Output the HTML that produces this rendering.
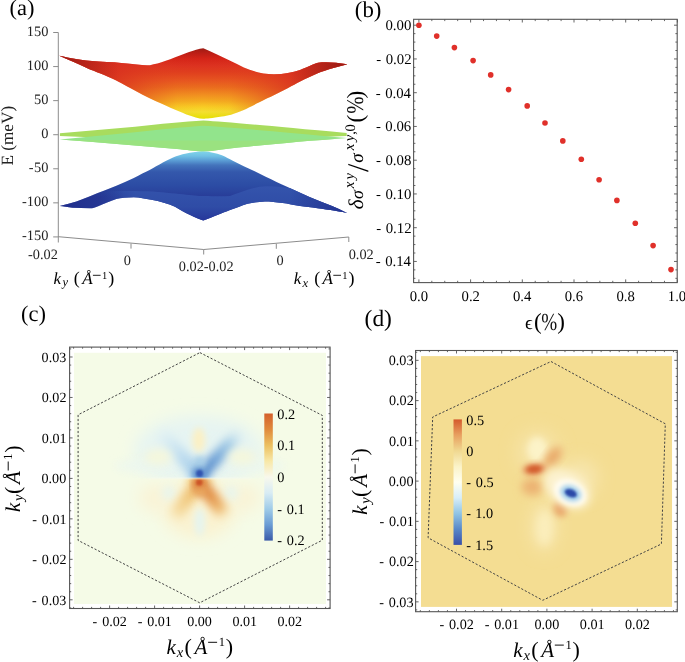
<!DOCTYPE html>
<html><head><meta charset="utf-8"><style>
html,body{margin:0;padding:0;background:#fff;}
svg{display:block;will-change:transform;}
text{font-family:"Liberation Serif", serif; text-rendering:geometricPrecision;}
</style></head><body>
<svg width="685" height="662" viewBox="0 0 685 662" fill="#111">
<rect width="685" height="662" fill="#fff"/>
<defs>
<filter id="b1" x="-50%" y="-50%" width="200%" height="200%"><feGaussianBlur stdDeviation="1.2"/></filter>
<filter id="b2" x="-50%" y="-50%" width="200%" height="200%"><feGaussianBlur stdDeviation="2"/></filter>
<filter id="b3" x="-50%" y="-50%" width="200%" height="200%"><feGaussianBlur stdDeviation="3"/></filter>
<filter id="b4" x="-50%" y="-50%" width="200%" height="200%"><feGaussianBlur stdDeviation="4"/></filter>
<filter id="b5" x="-50%" y="-50%" width="200%" height="200%"><feGaussianBlur stdDeviation="5"/></filter>
<filter id="b6" x="-50%" y="-50%" width="200%" height="200%"><feGaussianBlur stdDeviation="6"/></filter>
<filter id="b8" x="-50%" y="-50%" width="200%" height="200%"><feGaussianBlur stdDeviation="8"/></filter>
<filter id="b12" x="-50%" y="-50%" width="200%" height="200%"><feGaussianBlur stdDeviation="12"/></filter>
</defs>
<text x="9.60" y="14.80" font-size="22.5" fill="#000">(a)</text>
<line x1="58.3" y1="32.5" x2="58.3" y2="242.5" stroke="#8c8c8c" stroke-width="1"/>
<line x1="53.2" y1="32.50" x2="58.3" y2="32.50" stroke="#8c8c8c" stroke-width="1"/>
<text x="26.85" y="35.90" font-size="14.4" fill="#222">150</text>
<line x1="53.2" y1="66.57" x2="58.3" y2="66.57" stroke="#8c8c8c" stroke-width="1"/>
<text x="26.85" y="69.97" font-size="14.4" fill="#222">100</text>
<line x1="53.2" y1="100.64" x2="58.3" y2="100.64" stroke="#8c8c8c" stroke-width="1"/>
<text x="34.05" y="104.04" font-size="14.4" fill="#222">50</text>
<line x1="53.2" y1="134.71" x2="58.3" y2="134.71" stroke="#8c8c8c" stroke-width="1"/>
<text x="41.25" y="138.11" font-size="14.4" fill="#222">0</text>
<line x1="53.2" y1="168.78" x2="58.3" y2="168.78" stroke="#8c8c8c" stroke-width="1"/>
<text x="28.81" y="172.18" font-size="14.4" fill="#222">-</text>
<text x="34.05" y="172.18" font-size="14.4" fill="#222">50</text>
<line x1="53.2" y1="202.85" x2="58.3" y2="202.85" stroke="#8c8c8c" stroke-width="1"/>
<text x="22.04" y="206.25" font-size="14.4" fill="#222">-</text>
<text x="26.85" y="206.25" font-size="14.4" fill="#222">100</text>
<line x1="53.2" y1="236.92" x2="58.3" y2="236.92" stroke="#8c8c8c" stroke-width="1"/>
<text x="22.04" y="240.32" font-size="14.4" fill="#222">-</text>
<text x="26.85" y="240.32" font-size="14.4" fill="#222">150</text>
<polyline points="58.3,236.7 203.7,249.5 348.8,237" fill="none" stroke="#8c8c8c" stroke-width="1"/>
<line x1="131" y1="243.6" x2="131" y2="248.6" stroke="#8c8c8c" stroke-width="1"/>
<line x1="203.7" y1="249.5" x2="203.7" y2="254.5" stroke="#8c8c8c" stroke-width="1"/>
<line x1="276.3" y1="243.8" x2="276.3" y2="248.8" stroke="#8c8c8c" stroke-width="1"/>
<line x1="348.8" y1="237" x2="348.8" y2="242" stroke="#8c8c8c" stroke-width="1"/>
<text x="57.80" y="259.20" font-size="14.3" text-anchor="end" fill="#222">-0.02</text>
<text x="127.30" y="265.10" font-size="14.3" text-anchor="middle" fill="#222">0</text>
<text x="206.20" y="271.40" font-size="14.3" text-anchor="middle" fill="#222">0.02-0.02</text>
<text x="280.00" y="265.10" font-size="14.3" text-anchor="middle" fill="#222">0</text>
<text x="348.70" y="259.40" font-size="14.3" fill="#222">0.02</text>
<text transform="translate(12.7,135.7) rotate(-90)" font-size="17.2" text-anchor="middle" fill="#222">E (meV)</text>
<g transform="translate(53.9,284)" fill="#222"><text x="-0.50" y="0.00" font-size="17" font-style="italic" fill="#000">k</text>
<text x="8.70" y="1.90" font-size="12.5" font-style="italic" fill="#000">y</text>
<text x="19.90" y="0.40" font-size="18" fill="#000">(</text>
<text x="28.30" y="0.00" font-size="17" font-style="italic" fill="#000">Å</text>
<rect x="39" y="-9.2" width="7.7" height="1" fill="#222"/>
<text x="48.00" y="-5.50" font-size="10.5" fill="#000">1</text>
<text x="54.30" y="0.40" font-size="18" fill="#000">)</text></g>
<g transform="translate(294.3,284)" fill="#222"><text x="-0.50" y="0.00" font-size="17" font-style="italic" fill="#000">k</text>
<text x="8.30" y="2.70" font-size="12.5" font-style="italic" fill="#000">x</text>
<text x="19.90" y="0.40" font-size="18" fill="#000">(</text>
<text x="28.30" y="0.00" font-size="17" font-style="italic" fill="#000">Å</text>
<rect x="39" y="-9.2" width="7.7" height="1" fill="#222"/>
<text x="48.00" y="-5.50" font-size="10.5" fill="#000">1</text>
<text x="54.30" y="0.40" font-size="18" fill="#000">)</text></g>
<defs>
<linearGradient id="gRed" gradientUnits="userSpaceOnUse" x1="0" y1="48" x2="0" y2="119">
<stop offset="0" stop-color="#9c1c14"/><stop offset="0.08" stop-color="#be1e16"/><stop offset="0.15" stop-color="#d42418"/>
<stop offset="0.25" stop-color="#dc3220"/><stop offset="0.35" stop-color="#e0401e"/><stop offset="0.45" stop-color="#e65420"/>
<stop offset="0.55" stop-color="#ea6c1e"/><stop offset="0.65" stop-color="#f08c20"/><stop offset="0.75" stop-color="#f4ac20"/>
<stop offset="0.83" stop-color="#f8cc24"/><stop offset="0.9" stop-color="#f4e030"/><stop offset="1" stop-color="#e4e000"/>
</linearGradient>
<linearGradient id="gBlue" gradientUnits="userSpaceOnUse" x1="0" y1="151.5" x2="0" y2="197">
<stop offset="0" stop-color="#80d4ea"/><stop offset="0.1" stop-color="#70c0e4"/><stop offset="0.2" stop-color="#5a9cd4"/>
<stop offset="0.3" stop-color="#4474bc"/><stop offset="0.45" stop-color="#3458ac"/><stop offset="0.75" stop-color="#2c4ca4"/>
<stop offset="1" stop-color="#283c98"/>
</linearGradient>
<linearGradient id="gBlue2" gradientUnits="userSpaceOnUse" x1="0" y1="186" x2="0" y2="221">
<stop offset="0" stop-color="#3454ac"/><stop offset="0.6" stop-color="#2f4ca6"/><stop offset="1" stop-color="#26369a"/>
</linearGradient>
<linearGradient id="gTipL" gradientUnits="userSpaceOnUse" x1="59" y1="0" x2="125" y2="0">
<stop offset="0" stop-color="#1e2a88" stop-opacity="1"/><stop offset="1" stop-color="#1e2a88" stop-opacity="0"/>
</linearGradient>
<linearGradient id="gTipR" gradientUnits="userSpaceOnUse" x1="347" y1="0" x2="290" y2="0">
<stop offset="0" stop-color="#1e2a88" stop-opacity="1"/><stop offset="1" stop-color="#1e2a88" stop-opacity="0"/>
</linearGradient>
<linearGradient id="gRSide" gradientUnits="userSpaceOnUse" x1="59" y1="0" x2="347" y2="0">
<stop offset="0" stop-color="#d83020" stop-opacity="0.95"/><stop offset="0.2" stop-color="#d83020" stop-opacity="0.75"/>
<stop offset="0.32" stop-color="#dc3820" stop-opacity="0.32"/><stop offset="0.41" stop-color="#e04020" stop-opacity="0.04"/>
<stop offset="0.5" stop-color="#e04020" stop-opacity="0"/><stop offset="0.59" stop-color="#e04020" stop-opacity="0.04"/>
<stop offset="0.68" stop-color="#dc3820" stop-opacity="0.32"/><stop offset="0.8" stop-color="#d83020" stop-opacity="0.75"/>
<stop offset="1" stop-color="#d83020" stop-opacity="0.95"/>
</linearGradient>
<linearGradient id="gRTipL" gradientUnits="userSpaceOnUse" x1="59" y1="0" x2="118" y2="0">
<stop offset="0" stop-color="#8a1410" stop-opacity="0.75"/><stop offset="1" stop-color="#8a1410" stop-opacity="0"/>
</linearGradient>
<linearGradient id="gRTipR" gradientUnits="userSpaceOnUse" x1="347" y1="0" x2="290" y2="0">
<stop offset="0" stop-color="#8a1410" stop-opacity="0.8"/><stop offset="1" stop-color="#8a1410" stop-opacity="0"/>
</linearGradient>
</defs>
<path d="M59.3,55.8 C70,58 80,60.5 98.8,61.5 C110,62 120,62.5 127.3,63.6 C135,64.5 142,65.5 150,65.2 C160,63.5 170,59.5 186.4,53.1 C194,50.5 199,48.8 203.3,48.3 C212,52 225,58 243.8,67.4 C252,71 262,74 274,74.3 C284,74.2 292,72.5 300,70 C308,67 313,64 318,62.8 C326,61.8 336,62.5 347.4,64.3 C335,67.5 322,71 313.9,75 C300,81 292,86 287.6,88.2 C275,94.5 268,98 265.7,99.1 C255,104.5 248,108 243.8,110 C233,114.5 228,115.8 221.9,116.6 C212,118.2 206,118.8 203.3,118.8 C199,118.7 193,116.5 186.4,114.4 C180,111.5 176,110 171,107.9 C160,103 150,98.5 142.6,94.7 C130,88 122,83.5 116.3,80.5 C105,75 95,71.5 87.8,68.5 C78,64 68,59.5 59.3,55.8 Z" fill="url(#gRed)"/>
<path d="M59.3,55.8 C70,58 80,60.5 98.8,61.5 C110,62 120,62.5 127.3,63.6 C135,64.5 142,65.5 150,65.2 C160,63.5 170,59.5 186.4,53.1 C194,50.5 199,48.8 203.3,48.3 C212,52 225,58 243.8,67.4 C252,71 262,74 274,74.3 C284,74.2 292,72.5 300,70 C308,67 313,64 318,62.8 C326,61.8 336,62.5 347.4,64.3 C335,67.5 322,71 313.9,75 C300,81 292,86 287.6,88.2 C275,94.5 268,98 265.7,99.1 C255,104.5 248,108 243.8,110 C233,114.5 228,115.8 221.9,116.6 C212,118.2 206,118.8 203.3,118.8 C199,118.7 193,116.5 186.4,114.4 C180,111.5 176,110 171,107.9 C160,103 150,98.5 142.6,94.7 C130,88 122,83.5 116.3,80.5 C105,75 95,71.5 87.8,68.5 C78,64 68,59.5 59.3,55.8 Z" fill="url(#gRSide)"/>
<path d="M59.3,55.8 C70,58 80,60.5 98.8,61.5 C110,62 120,62.5 127.3,63.6 C135,64.5 142,65.5 150,65.2 C160,63.5 170,59.5 186.4,53.1 C194,50.5 199,48.8 203.3,48.3 C212,52 225,58 243.8,67.4 C252,71 262,74 274,74.3 C284,74.2 292,72.5 300,70 C308,67 313,64 318,62.8 C326,61.8 336,62.5 347.4,64.3 C335,67.5 322,71 313.9,75 C300,81 292,86 287.6,88.2 C275,94.5 268,98 265.7,99.1 C255,104.5 248,108 243.8,110 C233,114.5 228,115.8 221.9,116.6 C212,118.2 206,118.8 203.3,118.8 C199,118.7 193,116.5 186.4,114.4 C180,111.5 176,110 171,107.9 C160,103 150,98.5 142.6,94.7 C130,88 122,83.5 116.3,80.5 C105,75 95,71.5 87.8,68.5 C78,64 68,59.5 59.3,55.8 Z" fill="url(#gRTipL)"/>
<path d="M59.3,55.8 C70,58 80,60.5 98.8,61.5 C110,62 120,62.5 127.3,63.6 C135,64.5 142,65.5 150,65.2 C160,63.5 170,59.5 186.4,53.1 C194,50.5 199,48.8 203.3,48.3 C212,52 225,58 243.8,67.4 C252,71 262,74 274,74.3 C284,74.2 292,72.5 300,70 C308,67 313,64 318,62.8 C326,61.8 336,62.5 347.4,64.3 C335,67.5 322,71 313.9,75 C300,81 292,86 287.6,88.2 C275,94.5 268,98 265.7,99.1 C255,104.5 248,108 243.8,110 C233,114.5 228,115.8 221.9,116.6 C212,118.2 206,118.8 203.3,118.8 C199,118.7 193,116.5 186.4,114.4 C180,111.5 176,110 171,107.9 C160,103 150,98.5 142.6,94.7 C130,88 122,83.5 116.3,80.5 C105,75 95,71.5 87.8,68.5 C78,64 68,59.5 59.3,55.8 Z" fill="url(#gRTipR)"/>
<path d="M59.9,133.2 L135,126.8 C160,124 185,121.5 203.3,120.5 C225,121.8 260,125 346.7,133 L346.7,136 L203,142 L59.9,136 Z" fill="#a8dc5e"/>
<path d="M59.9,139.4 L135,132.3 C160,129.5 185,127 203.3,125.8 C225,127 265,130.5 346.7,138 C300,141.5 255,145.5 222,149.5 C214,150.5 208,151.5 203.3,151.6 C198,151.5 190,150.5 180,149.3 C140,145.5 100,142.5 59.9,139.4 Z" fill="#92e48c"/>
<path d="M59.9,139.4 C100,140 150,140.4 203,140.6 C250,141 300,140 346.7,138 C300,141.5 255,145.5 222,149.5 C214,150.5 208,151.5 203.3,151.6 C198,151.5 190,150.5 180,149.3 C140,145.5 100,142.5 59.9,139.4 Z" fill="#9ae280"/>
<clipPath id="clipB1"><path d="M59.8,206.1 C72,203.5 82,199.5 90,196.3 C100,192 108,189.5 116.3,185.8 C122,183 128,180.5 133.8,177.9 C140,175 145,172 149.6,170 C158,165 168,159.5 175.4,156.4 C185,153 195,151.5 203.3,151.4 C210,151.5 216,153 221.9,155.3 C226,157 229,159 232.8,160.8 C236.5,162.6 240,164.6 243.8,166.3 C247.5,168 251,169.7 254.7,171.3 C258.5,173 262,175 265.7,176.8 C273,180.3 280,183.8 287.6,187.1 C295,190.4 302,193.8 309.5,196.9 C317,200 324,202.8 331.4,205.7 C337,208 342,210.5 347.4,213.2 C343,212 338,211.5 335.1,210.8 C329,209.8 323,208.8 317.6,208.2 C311,207.2 305,206.5 300,205.9 C294,205 288,203.5 282.6,202.9 C276,202.2 270,201.5 265,201.5 C259,201.8 253,202.5 247.5,203.8 C241,206 236,208 230,209.9 C222,213 215,216 203.3,220.6 C196,218 185,213 175,206.8 C168,203.5 160,201.5 151.4,199.8 C145,198.5 140,197.5 133.8,197.2 C127,197.3 121,198 116.3,198.9 C110,201 104,203.5 98.8,205.9 C95,207.5 93,208.2 90,208.2 C84,208.2 78,208 72.5,207.7 C68,207.2 63,206.5 59.8,206.1 Z"/></clipPath>
<path d="M59.8,206.1 C72,203.5 82,199.5 90,196.3 C100,192 108,189.5 116.3,185.8 C122,183 128,180.5 133.8,177.9 C140,175 145,172 149.6,170 C158,165 168,159.5 175.4,156.4 C185,153 195,151.5 203.3,151.4 C210,151.5 216,153 221.9,155.3 C226,157 229,159 232.8,160.8 C236.5,162.6 240,164.6 243.8,166.3 C247.5,168 251,169.7 254.7,171.3 C258.5,173 262,175 265.7,176.8 C273,180.3 280,183.8 287.6,187.1 C295,190.4 302,193.8 309.5,196.9 C317,200 324,202.8 331.4,205.7 C337,208 342,210.5 347.4,213.2 C343,212 338,211.5 335.1,210.8 C329,209.8 323,208.8 317.6,208.2 C311,207.2 305,206.5 300,205.9 C294,205 288,203.5 282.6,202.9 C276,202.2 270,201.5 265,201.5 C259,201.8 253,202.5 247.5,203.8 C241,206 236,208 230,209.9 C222,213 215,216 203.3,220.6 C196,218 185,213 175,206.8 C168,203.5 160,201.5 151.4,199.8 C145,198.5 140,197.5 133.8,197.2 C127,197.3 121,198 116.3,198.9 C110,201 104,203.5 98.8,205.9 C95,207.5 93,208.2 90,208.2 C84,208.2 78,208 72.5,207.7 C68,207.2 63,206.5 59.8,206.1 Z" fill="url(#gBlue)"/>
<linearGradient id="gFoldM" gradientUnits="userSpaceOnUse" x1="98" y1="0" x2="135" y2="0"><stop offset="0" stop-color="#fff" stop-opacity="0"/><stop offset="1" stop-color="#fff" stop-opacity="1"/></linearGradient>
<mask id="mFold" maskUnits="userSpaceOnUse" x="0" y="0" width="685" height="662"><rect x="0" y="0" width="685" height="662" fill="url(#gFoldM)"/></mask>
<g mask="url(#mFold)"><path d="M98,240 L98,192.4 C104,191.8 112,191.2 120.7,191 C132,190.8 145,191.2 153.5,191.5 C165,192.5 178,193.8 186.4,194.7 C195,195.6 200,196 205,196 C215,196.3 222,196.3 230,195.9 C236,194 242,191.5 247.5,189.8 C253,188 259,186.5 265,186.3 C272,186.2 278,186.6 282.6,187.2 C287,187.7 290,188 292,188.3 L360,190 L360,240 Z" fill="url(#gBlue2)" clip-path="url(#clipB1)"/></g>
<path d="M59.8,206.1 C72,203.5 82,199.5 90,196.3 C100,192 108,189.5 116.3,185.8 C122,183 128,180.5 133.8,177.9 C140,175 145,172 149.6,170 C158,165 168,159.5 175.4,156.4 C185,153 195,151.5 203.3,151.4 C210,151.5 216,153 221.9,155.3 C226,157 229,159 232.8,160.8 C236.5,162.6 240,164.6 243.8,166.3 C247.5,168 251,169.7 254.7,171.3 C258.5,173 262,175 265.7,176.8 C273,180.3 280,183.8 287.6,187.1 C295,190.4 302,193.8 309.5,196.9 C317,200 324,202.8 331.4,205.7 C337,208 342,210.5 347.4,213.2 C343,212 338,211.5 335.1,210.8 C329,209.8 323,208.8 317.6,208.2 C311,207.2 305,206.5 300,205.9 C294,205 288,203.5 282.6,202.9 C276,202.2 270,201.5 265,201.5 C259,201.8 253,202.5 247.5,203.8 C241,206 236,208 230,209.9 C222,213 215,216 203.3,220.6 C196,218 185,213 175,206.8 C168,203.5 160,201.5 151.4,199.8 C145,198.5 140,197.5 133.8,197.2 C127,197.3 121,198 116.3,198.9 C110,201 104,203.5 98.8,205.9 C95,207.5 93,208.2 90,208.2 C84,208.2 78,208 72.5,207.7 C68,207.2 63,206.5 59.8,206.1 Z" fill="url(#gTipL)" opacity="0.8"/>
<path d="M59.8,206.1 C72,203.5 82,199.5 90,196.3 C100,192 108,189.5 116.3,185.8 C122,183 128,180.5 133.8,177.9 C140,175 145,172 149.6,170 C158,165 168,159.5 175.4,156.4 C185,153 195,151.5 203.3,151.4 C210,151.5 216,153 221.9,155.3 C226,157 229,159 232.8,160.8 C236.5,162.6 240,164.6 243.8,166.3 C247.5,168 251,169.7 254.7,171.3 C258.5,173 262,175 265.7,176.8 C273,180.3 280,183.8 287.6,187.1 C295,190.4 302,193.8 309.5,196.9 C317,200 324,202.8 331.4,205.7 C337,208 342,210.5 347.4,213.2 C343,212 338,211.5 335.1,210.8 C329,209.8 323,208.8 317.6,208.2 C311,207.2 305,206.5 300,205.9 C294,205 288,203.5 282.6,202.9 C276,202.2 270,201.5 265,201.5 C259,201.8 253,202.5 247.5,203.8 C241,206 236,208 230,209.9 C222,213 215,216 203.3,220.6 C196,218 185,213 175,206.8 C168,203.5 160,201.5 151.4,199.8 C145,198.5 140,197.5 133.8,197.2 C127,197.3 121,198 116.3,198.9 C110,201 104,203.5 98.8,205.9 C95,207.5 93,208.2 90,208.2 C84,208.2 78,208 72.5,207.7 C68,207.2 63,206.5 59.8,206.1 Z" fill="url(#gTipR)" opacity="0.7"/>
<text x="354.80" y="17.20" font-size="22.8" fill="#000">(b)</text>
<rect x="413.6" y="19.3" width="263.60" height="263.30" fill="none" stroke="#555" stroke-width="1.1"/>
<line x1="418.90" y1="282.6" x2="418.90" y2="279.40000000000003" stroke="#555" stroke-width="0.9"/>
<line x1="418.90" y1="19.3" x2="418.90" y2="22.5" stroke="#555" stroke-width="0.9"/>
<text x="409.71" y="300.90" font-size="14.7" fill="#000">0.0</text>
<line x1="431.82" y1="282.6" x2="431.82" y2="280.8" stroke="#555" stroke-width="0.9"/>
<line x1="431.82" y1="19.3" x2="431.82" y2="21.1" stroke="#555" stroke-width="0.9"/>
<line x1="444.75" y1="282.6" x2="444.75" y2="280.8" stroke="#555" stroke-width="0.9"/>
<line x1="444.75" y1="19.3" x2="444.75" y2="21.1" stroke="#555" stroke-width="0.9"/>
<line x1="457.67" y1="282.6" x2="457.67" y2="280.8" stroke="#555" stroke-width="0.9"/>
<line x1="457.67" y1="19.3" x2="457.67" y2="21.1" stroke="#555" stroke-width="0.9"/>
<line x1="470.60" y1="282.6" x2="470.60" y2="279.40000000000003" stroke="#555" stroke-width="0.9"/>
<line x1="470.60" y1="19.3" x2="470.60" y2="22.5" stroke="#555" stroke-width="0.9"/>
<text x="461.54" y="300.90" font-size="14.7" fill="#000">0.2</text>
<line x1="483.52" y1="282.6" x2="483.52" y2="280.8" stroke="#555" stroke-width="0.9"/>
<line x1="483.52" y1="19.3" x2="483.52" y2="21.1" stroke="#555" stroke-width="0.9"/>
<line x1="496.45" y1="282.6" x2="496.45" y2="280.8" stroke="#555" stroke-width="0.9"/>
<line x1="496.45" y1="19.3" x2="496.45" y2="21.1" stroke="#555" stroke-width="0.9"/>
<line x1="509.38" y1="282.6" x2="509.38" y2="280.8" stroke="#555" stroke-width="0.9"/>
<line x1="509.38" y1="19.3" x2="509.38" y2="21.1" stroke="#555" stroke-width="0.9"/>
<line x1="522.30" y1="282.6" x2="522.30" y2="279.40000000000003" stroke="#555" stroke-width="0.9"/>
<line x1="522.30" y1="19.3" x2="522.30" y2="22.5" stroke="#555" stroke-width="0.9"/>
<text x="512.95" y="300.90" font-size="14.7" fill="#000">0.4</text>
<line x1="535.23" y1="282.6" x2="535.23" y2="280.8" stroke="#555" stroke-width="0.9"/>
<line x1="535.23" y1="19.3" x2="535.23" y2="21.1" stroke="#555" stroke-width="0.9"/>
<line x1="548.15" y1="282.6" x2="548.15" y2="280.8" stroke="#555" stroke-width="0.9"/>
<line x1="548.15" y1="19.3" x2="548.15" y2="21.1" stroke="#555" stroke-width="0.9"/>
<line x1="561.08" y1="282.6" x2="561.08" y2="280.8" stroke="#555" stroke-width="0.9"/>
<line x1="561.08" y1="19.3" x2="561.08" y2="21.1" stroke="#555" stroke-width="0.9"/>
<line x1="574.00" y1="282.6" x2="574.00" y2="279.40000000000003" stroke="#555" stroke-width="0.9"/>
<line x1="574.00" y1="19.3" x2="574.00" y2="22.5" stroke="#555" stroke-width="0.9"/>
<text x="564.75" y="300.90" font-size="14.7" fill="#000">0.6</text>
<line x1="586.92" y1="282.6" x2="586.92" y2="280.8" stroke="#555" stroke-width="0.9"/>
<line x1="586.92" y1="19.3" x2="586.92" y2="21.1" stroke="#555" stroke-width="0.9"/>
<line x1="599.85" y1="282.6" x2="599.85" y2="280.8" stroke="#555" stroke-width="0.9"/>
<line x1="599.85" y1="19.3" x2="599.85" y2="21.1" stroke="#555" stroke-width="0.9"/>
<line x1="612.77" y1="282.6" x2="612.77" y2="280.8" stroke="#555" stroke-width="0.9"/>
<line x1="612.77" y1="19.3" x2="612.77" y2="21.1" stroke="#555" stroke-width="0.9"/>
<line x1="625.70" y1="282.6" x2="625.70" y2="279.40000000000003" stroke="#555" stroke-width="0.9"/>
<line x1="625.70" y1="19.3" x2="625.70" y2="22.5" stroke="#555" stroke-width="0.9"/>
<text x="616.51" y="300.90" font-size="14.7" fill="#000">0.8</text>
<line x1="638.62" y1="282.6" x2="638.62" y2="280.8" stroke="#555" stroke-width="0.9"/>
<line x1="638.62" y1="19.3" x2="638.62" y2="21.1" stroke="#555" stroke-width="0.9"/>
<line x1="651.55" y1="282.6" x2="651.55" y2="280.8" stroke="#555" stroke-width="0.9"/>
<line x1="651.55" y1="19.3" x2="651.55" y2="21.1" stroke="#555" stroke-width="0.9"/>
<line x1="664.48" y1="282.6" x2="664.48" y2="280.8" stroke="#555" stroke-width="0.9"/>
<line x1="664.48" y1="19.3" x2="664.48" y2="21.1" stroke="#555" stroke-width="0.9"/>
<line x1="677.40" y1="282.6" x2="677.40" y2="279.40000000000003" stroke="#555" stroke-width="0.9"/>
<line x1="677.40" y1="19.3" x2="677.40" y2="22.5" stroke="#555" stroke-width="0.9"/>
<text x="667.85" y="300.90" font-size="14.7" fill="#000">1.0</text>
<line x1="413.6" y1="25.20" x2="416.8" y2="25.20" stroke="#555" stroke-width="0.9"/>
<line x1="677.2" y1="25.20" x2="674.0" y2="25.20" stroke="#555" stroke-width="0.9"/>
<text x="385.46" y="30.10" font-size="14.8" fill="#000">0.00</text>
<line x1="413.6" y1="33.64" x2="415.40000000000003" y2="33.64" stroke="#555" stroke-width="0.9"/>
<line x1="677.2" y1="33.64" x2="675.4000000000001" y2="33.64" stroke="#555" stroke-width="0.9"/>
<line x1="413.6" y1="42.08" x2="415.40000000000003" y2="42.08" stroke="#555" stroke-width="0.9"/>
<line x1="677.2" y1="42.08" x2="675.4000000000001" y2="42.08" stroke="#555" stroke-width="0.9"/>
<line x1="413.6" y1="50.51" x2="415.40000000000003" y2="50.51" stroke="#555" stroke-width="0.9"/>
<line x1="677.2" y1="50.51" x2="675.4000000000001" y2="50.51" stroke="#555" stroke-width="0.9"/>
<line x1="413.6" y1="58.95" x2="416.8" y2="58.95" stroke="#555" stroke-width="0.9"/>
<line x1="677.2" y1="58.95" x2="674.0" y2="58.95" stroke="#555" stroke-width="0.9"/>
<text x="376.29" y="63.85" font-size="14.8" fill="#000">-</text>
<text x="385.72" y="63.85" font-size="14.8" fill="#000">0.02</text>
<line x1="413.6" y1="67.39" x2="415.40000000000003" y2="67.39" stroke="#555" stroke-width="0.9"/>
<line x1="677.2" y1="67.39" x2="675.4000000000001" y2="67.39" stroke="#555" stroke-width="0.9"/>
<line x1="413.6" y1="75.83" x2="415.40000000000003" y2="75.83" stroke="#555" stroke-width="0.9"/>
<line x1="677.2" y1="75.83" x2="675.4000000000001" y2="75.83" stroke="#555" stroke-width="0.9"/>
<line x1="413.6" y1="84.26" x2="415.40000000000003" y2="84.26" stroke="#555" stroke-width="0.9"/>
<line x1="677.2" y1="84.26" x2="675.4000000000001" y2="84.26" stroke="#555" stroke-width="0.9"/>
<line x1="413.6" y1="92.70" x2="416.8" y2="92.70" stroke="#555" stroke-width="0.9"/>
<line x1="677.2" y1="92.70" x2="674.0" y2="92.70" stroke="#555" stroke-width="0.9"/>
<text x="375.70" y="97.60" font-size="14.8" fill="#000">-</text>
<text x="385.13" y="97.60" font-size="14.8" fill="#000">0.04</text>
<line x1="413.6" y1="101.14" x2="415.40000000000003" y2="101.14" stroke="#555" stroke-width="0.9"/>
<line x1="677.2" y1="101.14" x2="675.4000000000001" y2="101.14" stroke="#555" stroke-width="0.9"/>
<line x1="413.6" y1="109.58" x2="415.40000000000003" y2="109.58" stroke="#555" stroke-width="0.9"/>
<line x1="677.2" y1="109.58" x2="675.4000000000001" y2="109.58" stroke="#555" stroke-width="0.9"/>
<line x1="413.6" y1="118.01" x2="415.40000000000003" y2="118.01" stroke="#555" stroke-width="0.9"/>
<line x1="677.2" y1="118.01" x2="675.4000000000001" y2="118.01" stroke="#555" stroke-width="0.9"/>
<line x1="413.6" y1="126.45" x2="416.8" y2="126.45" stroke="#555" stroke-width="0.9"/>
<line x1="677.2" y1="126.45" x2="674.0" y2="126.45" stroke="#555" stroke-width="0.9"/>
<text x="375.91" y="131.35" font-size="14.8" fill="#000">-</text>
<text x="385.34" y="131.35" font-size="14.8" fill="#000">0.06</text>
<line x1="413.6" y1="134.89" x2="415.40000000000003" y2="134.89" stroke="#555" stroke-width="0.9"/>
<line x1="677.2" y1="134.89" x2="675.4000000000001" y2="134.89" stroke="#555" stroke-width="0.9"/>
<line x1="413.6" y1="143.33" x2="415.40000000000003" y2="143.33" stroke="#555" stroke-width="0.9"/>
<line x1="677.2" y1="143.33" x2="675.4000000000001" y2="143.33" stroke="#555" stroke-width="0.9"/>
<line x1="413.6" y1="151.76" x2="415.40000000000003" y2="151.76" stroke="#555" stroke-width="0.9"/>
<line x1="677.2" y1="151.76" x2="675.4000000000001" y2="151.76" stroke="#555" stroke-width="0.9"/>
<line x1="413.6" y1="160.20" x2="416.8" y2="160.20" stroke="#555" stroke-width="0.9"/>
<line x1="677.2" y1="160.20" x2="674.0" y2="160.20" stroke="#555" stroke-width="0.9"/>
<text x="376.03" y="165.10" font-size="14.8" fill="#000">-</text>
<text x="385.46" y="165.10" font-size="14.8" fill="#000">0.08</text>
<line x1="413.6" y1="168.64" x2="415.40000000000003" y2="168.64" stroke="#555" stroke-width="0.9"/>
<line x1="677.2" y1="168.64" x2="675.4000000000001" y2="168.64" stroke="#555" stroke-width="0.9"/>
<line x1="413.6" y1="177.07" x2="415.40000000000003" y2="177.07" stroke="#555" stroke-width="0.9"/>
<line x1="677.2" y1="177.07" x2="675.4000000000001" y2="177.07" stroke="#555" stroke-width="0.9"/>
<line x1="413.6" y1="185.51" x2="415.40000000000003" y2="185.51" stroke="#555" stroke-width="0.9"/>
<line x1="677.2" y1="185.51" x2="675.4000000000001" y2="185.51" stroke="#555" stroke-width="0.9"/>
<line x1="413.6" y1="193.95" x2="416.8" y2="193.95" stroke="#555" stroke-width="0.9"/>
<line x1="677.2" y1="193.95" x2="674.0" y2="193.95" stroke="#555" stroke-width="0.9"/>
<text x="376.03" y="198.85" font-size="14.8" fill="#000">-</text>
<text x="385.46" y="198.85" font-size="14.8" fill="#000">0.10</text>
<line x1="413.6" y1="202.39" x2="415.40000000000003" y2="202.39" stroke="#555" stroke-width="0.9"/>
<line x1="677.2" y1="202.39" x2="675.4000000000001" y2="202.39" stroke="#555" stroke-width="0.9"/>
<line x1="413.6" y1="210.82" x2="415.40000000000003" y2="210.82" stroke="#555" stroke-width="0.9"/>
<line x1="677.2" y1="210.82" x2="675.4000000000001" y2="210.82" stroke="#555" stroke-width="0.9"/>
<line x1="413.6" y1="219.26" x2="415.40000000000003" y2="219.26" stroke="#555" stroke-width="0.9"/>
<line x1="677.2" y1="219.26" x2="675.4000000000001" y2="219.26" stroke="#555" stroke-width="0.9"/>
<line x1="413.6" y1="227.70" x2="416.8" y2="227.70" stroke="#555" stroke-width="0.9"/>
<line x1="677.2" y1="227.70" x2="674.0" y2="227.70" stroke="#555" stroke-width="0.9"/>
<text x="376.29" y="232.60" font-size="14.8" fill="#000">-</text>
<text x="385.72" y="232.60" font-size="14.8" fill="#000">0.12</text>
<line x1="413.6" y1="236.14" x2="415.40000000000003" y2="236.14" stroke="#555" stroke-width="0.9"/>
<line x1="677.2" y1="236.14" x2="675.4000000000001" y2="236.14" stroke="#555" stroke-width="0.9"/>
<line x1="413.6" y1="244.57" x2="415.40000000000003" y2="244.57" stroke="#555" stroke-width="0.9"/>
<line x1="677.2" y1="244.57" x2="675.4000000000001" y2="244.57" stroke="#555" stroke-width="0.9"/>
<line x1="413.6" y1="253.01" x2="415.40000000000003" y2="253.01" stroke="#555" stroke-width="0.9"/>
<line x1="677.2" y1="253.01" x2="675.4000000000001" y2="253.01" stroke="#555" stroke-width="0.9"/>
<line x1="413.6" y1="261.45" x2="416.8" y2="261.45" stroke="#555" stroke-width="0.9"/>
<line x1="677.2" y1="261.45" x2="674.0" y2="261.45" stroke="#555" stroke-width="0.9"/>
<text x="375.70" y="266.35" font-size="14.8" fill="#000">-</text>
<text x="385.13" y="266.35" font-size="14.8" fill="#000">0.14</text>
<line x1="413.6" y1="269.89" x2="415.40000000000003" y2="269.89" stroke="#555" stroke-width="0.9"/>
<line x1="677.2" y1="269.89" x2="675.4000000000001" y2="269.89" stroke="#555" stroke-width="0.9"/>
<line x1="413.6" y1="278.32" x2="415.40000000000003" y2="278.32" stroke="#555" stroke-width="0.9"/>
<line x1="677.2" y1="278.32" x2="675.4000000000001" y2="278.32" stroke="#555" stroke-width="0.9"/>
<circle cx="418.9" cy="25.2" r="2.8" fill="#e0302a"/>
<circle cx="436.7" cy="36.1" r="2.8" fill="#e0302a"/>
<circle cx="454.4" cy="47.6" r="2.8" fill="#e0302a"/>
<circle cx="473.1" cy="60.6" r="2.8" fill="#e0302a"/>
<circle cx="490.7" cy="74.9" r="2.8" fill="#e0302a"/>
<circle cx="508.6" cy="89.6" r="2.8" fill="#e0302a"/>
<circle cx="527.2" cy="105.9" r="2.8" fill="#e0302a"/>
<circle cx="545.0" cy="123.0" r="2.8" fill="#e0302a"/>
<circle cx="562.8" cy="140.9" r="2.8" fill="#e0302a"/>
<circle cx="581.3" cy="159.2" r="2.8" fill="#e0302a"/>
<circle cx="599.1" cy="179.8" r="2.8" fill="#e0302a"/>
<circle cx="616.9" cy="200.4" r="2.8" fill="#e0302a"/>
<circle cx="635.3" cy="223.2" r="2.8" fill="#e0302a"/>
<circle cx="653.1" cy="245.6" r="2.8" fill="#e0302a"/>
<circle cx="671.0" cy="269.6" r="2.8" fill="#e0302a"/>
<text x="525.08" y="329.40" font-size="19" fill="#000">ϵ</text>
<text x="533.99" y="329.00" font-size="23" fill="#000">(</text>
<text transform="translate(541.25,329.6) scale(0.78,1.0)" font-size="24.5" fill="#111">%</text>
<text x="557.26" y="329.00" font-size="23" fill="#000">)</text>
<g transform="translate(362.8,208.7) rotate(-90)"><text x="-0.61" y="0.00" font-size="21" font-style="italic" fill="#000">δ</text>
<text x="9.76" y="0.00" font-size="18" font-style="italic" fill="#000">σ</text>
<text x="20.38" y="-8.50" font-size="15" font-style="italic" fill="#000">x</text>
<text x="29.20" y="-8.90" font-size="14.5" font-style="italic" fill="#000">y</text>
<text x="36.60" y="4.70" font-size="30" fill="#000">/</text>
<text x="45.93" y="0.00" font-size="19" font-style="italic" fill="#000">σ</text>
<text x="58.38" y="-8.50" font-size="15" font-style="italic" fill="#000">x</text>
<text x="67.50" y="-8.90" font-size="14.5" font-style="italic" fill="#000">y</text>
<text x="73.85" y="-8.20" font-size="14.5" fill="#000">,</text>
<text x="77.25" y="-8.10" font-size="14.5" fill="#000">0</text>
<text x="86.27" y="0.20" font-size="23.4" fill="#000">(</text>
<text transform="translate(94.99,0.6) scale(0.86,1.0)" font-size="24" fill="#111">%</text>
<text x="110.25" y="0.20" font-size="23.4" fill="#000">)</text></g>
<text x="21.00" y="320.70" font-size="22.5" fill="#000">(c)</text>
<defs>
<clipPath id="clipC"><rect x="73.8" y="352.6" width="252.2" height="251.4"/></clipPath>
<linearGradient id="cbC" x1="0" y1="0" x2="0" y2="1">
<stop offset="0" stop-color="#d4602c"/><stop offset="0.125" stop-color="#e08a3c"/><stop offset="0.25" stop-color="#ecc060"/>
<stop offset="0.375" stop-color="#f8e8a8"/><stop offset="0.5" stop-color="#f8f8ec"/><stop offset="0.625" stop-color="#d8ecf4"/>
<stop offset="0.75" stop-color="#a0cce8"/><stop offset="0.875" stop-color="#6a9cd4"/><stop offset="1" stop-color="#3a5aa8"/>
</linearGradient>
</defs>
<defs>
<clipPath id="clipCup"><rect x="73.8" y="352.6" width="252.2" height="125.9"/></clipPath>
<clipPath id="clipClo"><rect x="73.8" y="478.5" width="252.2" height="125.5"/></clipPath>
<linearGradient id="armBR" gradientUnits="userSpaceOnUse" x1="201" y1="472" x2="243" y2="429">
<stop offset="0" stop-color="#5486c8"/><stop offset="0.3" stop-color="#6c9fd6"/><stop offset="0.65" stop-color="#a0cae6"/><stop offset="1" stop-color="#dcEEF2" stop-opacity="0"/></linearGradient>
<linearGradient id="armBL" gradientUnits="userSpaceOnUse" x1="198" y1="472" x2="157" y2="429">
<stop offset="0" stop-color="#a2cae8"/><stop offset="0.4" stop-color="#c0def0"/><stop offset="0.75" stop-color="#daedf3"/><stop offset="1" stop-color="#e2f1f2" stop-opacity="0"/></linearGradient>
<linearGradient id="armOR" gradientUnits="userSpaceOnUse" x1="201" y1="484" x2="227" y2="518">
<stop offset="0" stop-color="#dc8642"/><stop offset="0.4" stop-color="#e4954c"/><stop offset="0.75" stop-color="#eebc74"/><stop offset="1" stop-color="#f8e6b0" stop-opacity="0"/></linearGradient>
<linearGradient id="armOL" gradientUnits="userSpaceOnUse" x1="197" y1="485" x2="172" y2="520">
<stop offset="0" stop-color="#eeba6a"/><stop offset="0.45" stop-color="#f2cc84"/><stop offset="0.8" stop-color="#f6dea6"/><stop offset="1" stop-color="#f8ecc0" stop-opacity="0"/></linearGradient>
</defs>
<g clip-path="url(#clipC)">
<rect x="73.8" y="352.6" width="252.2" height="251.4" fill="#f5fbe7"/>
<g clip-path="url(#clipCup)">
<ellipse cx="199" cy="450" rx="64" ry="34" fill="#e6f4f2" filter="url(#b8)"/>
<ellipse cx="150" cy="466" rx="35" ry="7" fill="#eaf6f0" opacity="0.7" filter="url(#b4)"/>
<ellipse cx="250" cy="466" rx="35" ry="7" fill="#eaf6f0" opacity="0.7" filter="url(#b4)"/>
<ellipse cx="199.6" cy="475" rx="13" ry="7" fill="#cce6f1" filter="url(#b3)"/>
<path d="M198,474 Q186,461 176,450 T158,430" fill="none" stroke="url(#armBL)" stroke-width="14" stroke-linecap="round" filter="url(#b4)"/>
<path d="M201,474 Q214,461 224,450 T242,430" fill="none" stroke="url(#armBR)" stroke-width="13" stroke-linecap="round" filter="url(#b4)"/>
<ellipse cx="199.6" cy="463" rx="6" ry="8" fill="#a8cfe8" filter="url(#b3)"/>
<ellipse cx="198.8" cy="440" rx="6.5" ry="12.5" fill="#fbf0c4" filter="url(#b3)"/>
<ellipse cx="158" cy="457" rx="14" ry="8" fill="#f5f7dc" filter="url(#b5)"/>
<ellipse cx="242" cy="457" rx="14" ry="8" fill="#f5f7dc" filter="url(#b5)"/>
<circle cx="199.6" cy="473.4" r="7" fill="#6a9ad0" opacity="0.85" filter="url(#b2)"/>
<circle cx="199.6" cy="473.4" r="3.6" fill="#3354b0" filter="url(#b1)"/>
</g>
<g clip-path="url(#clipClo)">
<ellipse cx="199" cy="508" rx="38" ry="30" fill="#faf2d0" filter="url(#b8)"/>
<ellipse cx="155" cy="498" rx="16" ry="14" fill="#f9f3d6" filter="url(#b8)"/>
<ellipse cx="244" cy="498" rx="16" ry="14" fill="#f9f3d6" filter="url(#b8)"/>
<ellipse cx="199.6" cy="481" rx="14" ry="7" fill="#f7dfa2" filter="url(#b3)"/>
<ellipse cx="169" cy="493" rx="7" ry="7" fill="#e8f5ee" filter="url(#b4)"/>
<ellipse cx="231" cy="493" rx="7" ry="7" fill="#e8f5ee" filter="url(#b4)"/>
<path d="M197,486 Q190,495 185,502 T175,516" fill="none" stroke="url(#armOL)" stroke-width="14" stroke-linecap="round" filter="url(#b4)"/>
<path d="M201,485 Q210,495 215,502 T225,515" fill="none" stroke="url(#armOR)" stroke-width="14" stroke-linecap="round" filter="url(#b4)"/>
<ellipse cx="199.6" cy="490" rx="7" ry="6" fill="#eaa860" filter="url(#b3)"/>
<ellipse cx="199.7" cy="522" rx="5.5" ry="14" fill="#e6f4ee" filter="url(#b3)"/>
<circle cx="199.3" cy="482.5" r="7" fill="#e08c48" opacity="0.85" filter="url(#b2)"/>
<circle cx="199.3" cy="482.5" r="3.3" fill="#cc5428" filter="url(#b1)"/>
</g>
<rect x="150" y="477.7" width="100" height="1.2" fill="#fafaf0" opacity="0.7" filter="url(#b1)"/>
</g>
<polygon points="199.9,352.6 322.3,415.4 322.3,540.2 199.7,602.8 78.1,540.4 78.1,414.8" fill="none" stroke="#444" stroke-width="1" stroke-dasharray="2.2,1.8"/>
<rect x="264.3" y="413.5" width="8.5" height="127.1" fill="url(#cbC)"/>
<text x="277.26" y="418.50" font-size="14.3" fill="#000">0.2</text>
<text x="277.26" y="450.30" font-size="14.3" fill="#000">0.1</text>
<text x="277.26" y="482.10" font-size="14.3" fill="#000">0</text>
<text x="277.27" y="513.80" font-size="14.3" fill="#000">-</text>
<text x="286.87" y="513.80" font-size="14.3" fill="#000">0.1</text>
<text x="277.27" y="545.10" font-size="14.3" fill="#000">-</text>
<text x="286.87" y="545.10" font-size="14.3" fill="#000">0.2</text>
<rect x="69.6" y="347.1" width="260.50" height="261.40" fill="none" stroke="#555" stroke-width="1.1"/>
<line x1="73.60" y1="608.5" x2="73.60" y2="606.9" stroke="#555" stroke-width="0.9"/>
<line x1="73.60" y1="347.1" x2="73.60" y2="348.70000000000005" stroke="#555" stroke-width="0.9"/>
<line x1="82.60" y1="608.5" x2="82.60" y2="606.9" stroke="#555" stroke-width="0.9"/>
<line x1="82.60" y1="347.1" x2="82.60" y2="348.70000000000005" stroke="#555" stroke-width="0.9"/>
<line x1="91.60" y1="608.5" x2="91.60" y2="606.9" stroke="#555" stroke-width="0.9"/>
<line x1="91.60" y1="347.1" x2="91.60" y2="348.70000000000005" stroke="#555" stroke-width="0.9"/>
<line x1="100.60" y1="608.5" x2="100.60" y2="606.9" stroke="#555" stroke-width="0.9"/>
<line x1="100.60" y1="347.1" x2="100.60" y2="348.70000000000005" stroke="#555" stroke-width="0.9"/>
<line x1="109.60" y1="608.5" x2="109.60" y2="605.5" stroke="#555" stroke-width="0.9"/>
<line x1="109.60" y1="347.1" x2="109.60" y2="350.1" stroke="#555" stroke-width="0.9"/>
<text x="92.62" y="626.00" font-size="14.1" fill="#000">-</text>
<text x="102.16" y="626.00" font-size="14.1" fill="#000">0.02</text>
<line x1="118.60" y1="608.5" x2="118.60" y2="606.9" stroke="#555" stroke-width="0.9"/>
<line x1="118.60" y1="347.1" x2="118.60" y2="348.70000000000005" stroke="#555" stroke-width="0.9"/>
<line x1="127.60" y1="608.5" x2="127.60" y2="606.9" stroke="#555" stroke-width="0.9"/>
<line x1="127.60" y1="347.1" x2="127.60" y2="348.70000000000005" stroke="#555" stroke-width="0.9"/>
<line x1="136.60" y1="608.5" x2="136.60" y2="606.9" stroke="#555" stroke-width="0.9"/>
<line x1="136.60" y1="347.1" x2="136.60" y2="348.70000000000005" stroke="#555" stroke-width="0.9"/>
<line x1="145.60" y1="608.5" x2="145.60" y2="606.9" stroke="#555" stroke-width="0.9"/>
<line x1="145.60" y1="347.1" x2="145.60" y2="348.70000000000005" stroke="#555" stroke-width="0.9"/>
<line x1="154.60" y1="608.5" x2="154.60" y2="605.5" stroke="#555" stroke-width="0.9"/>
<line x1="154.60" y1="347.1" x2="154.60" y2="350.1" stroke="#555" stroke-width="0.9"/>
<text x="137.65" y="626.00" font-size="14.1" fill="#000">-</text>
<text x="147.20" y="626.00" font-size="14.1" fill="#000">0.01</text>
<line x1="163.60" y1="608.5" x2="163.60" y2="606.9" stroke="#555" stroke-width="0.9"/>
<line x1="163.60" y1="347.1" x2="163.60" y2="348.70000000000005" stroke="#555" stroke-width="0.9"/>
<line x1="172.60" y1="608.5" x2="172.60" y2="606.9" stroke="#555" stroke-width="0.9"/>
<line x1="172.60" y1="347.1" x2="172.60" y2="348.70000000000005" stroke="#555" stroke-width="0.9"/>
<line x1="181.60" y1="608.5" x2="181.60" y2="606.9" stroke="#555" stroke-width="0.9"/>
<line x1="181.60" y1="347.1" x2="181.60" y2="348.70000000000005" stroke="#555" stroke-width="0.9"/>
<line x1="190.60" y1="608.5" x2="190.60" y2="606.9" stroke="#555" stroke-width="0.9"/>
<line x1="190.60" y1="347.1" x2="190.60" y2="348.70000000000005" stroke="#555" stroke-width="0.9"/>
<line x1="199.60" y1="608.5" x2="199.60" y2="605.5" stroke="#555" stroke-width="0.9"/>
<line x1="199.60" y1="347.1" x2="199.60" y2="350.1" stroke="#555" stroke-width="0.9"/>
<text x="187.26" y="626.00" font-size="14.1" fill="#000">0.00</text>
<line x1="208.60" y1="608.5" x2="208.60" y2="606.9" stroke="#555" stroke-width="0.9"/>
<line x1="208.60" y1="347.1" x2="208.60" y2="348.70000000000005" stroke="#555" stroke-width="0.9"/>
<line x1="217.60" y1="608.5" x2="217.60" y2="606.9" stroke="#555" stroke-width="0.9"/>
<line x1="217.60" y1="347.1" x2="217.60" y2="348.70000000000005" stroke="#555" stroke-width="0.9"/>
<line x1="226.60" y1="608.5" x2="226.60" y2="606.9" stroke="#555" stroke-width="0.9"/>
<line x1="226.60" y1="347.1" x2="226.60" y2="348.70000000000005" stroke="#555" stroke-width="0.9"/>
<line x1="235.60" y1="608.5" x2="235.60" y2="606.9" stroke="#555" stroke-width="0.9"/>
<line x1="235.60" y1="347.1" x2="235.60" y2="348.70000000000005" stroke="#555" stroke-width="0.9"/>
<line x1="244.60" y1="608.5" x2="244.60" y2="605.5" stroke="#555" stroke-width="0.9"/>
<line x1="244.60" y1="347.1" x2="244.60" y2="350.1" stroke="#555" stroke-width="0.9"/>
<text x="232.42" y="626.00" font-size="14.1" fill="#000">0.01</text>
<line x1="253.60" y1="608.5" x2="253.60" y2="606.9" stroke="#555" stroke-width="0.9"/>
<line x1="253.60" y1="347.1" x2="253.60" y2="348.70000000000005" stroke="#555" stroke-width="0.9"/>
<line x1="262.60" y1="608.5" x2="262.60" y2="606.9" stroke="#555" stroke-width="0.9"/>
<line x1="262.60" y1="347.1" x2="262.60" y2="348.70000000000005" stroke="#555" stroke-width="0.9"/>
<line x1="271.60" y1="608.5" x2="271.60" y2="606.9" stroke="#555" stroke-width="0.9"/>
<line x1="271.60" y1="347.1" x2="271.60" y2="348.70000000000005" stroke="#555" stroke-width="0.9"/>
<line x1="280.60" y1="608.5" x2="280.60" y2="606.9" stroke="#555" stroke-width="0.9"/>
<line x1="280.60" y1="347.1" x2="280.60" y2="348.70000000000005" stroke="#555" stroke-width="0.9"/>
<line x1="289.60" y1="608.5" x2="289.60" y2="605.5" stroke="#555" stroke-width="0.9"/>
<line x1="289.60" y1="347.1" x2="289.60" y2="350.1" stroke="#555" stroke-width="0.9"/>
<text x="277.38" y="626.00" font-size="14.1" fill="#000">0.02</text>
<line x1="298.60" y1="608.5" x2="298.60" y2="606.9" stroke="#555" stroke-width="0.9"/>
<line x1="298.60" y1="347.1" x2="298.60" y2="348.70000000000005" stroke="#555" stroke-width="0.9"/>
<line x1="307.60" y1="608.5" x2="307.60" y2="606.9" stroke="#555" stroke-width="0.9"/>
<line x1="307.60" y1="347.1" x2="307.60" y2="348.70000000000005" stroke="#555" stroke-width="0.9"/>
<line x1="316.60" y1="608.5" x2="316.60" y2="606.9" stroke="#555" stroke-width="0.9"/>
<line x1="316.60" y1="347.1" x2="316.60" y2="348.70000000000005" stroke="#555" stroke-width="0.9"/>
<line x1="325.60" y1="608.5" x2="325.60" y2="606.9" stroke="#555" stroke-width="0.9"/>
<line x1="325.60" y1="347.1" x2="325.60" y2="348.70000000000005" stroke="#555" stroke-width="0.9"/>
<line x1="69.6" y1="607.90" x2="71.19999999999999" y2="607.90" stroke="#555" stroke-width="0.9"/>
<line x1="330.1" y1="607.90" x2="328.5" y2="607.90" stroke="#555" stroke-width="0.9"/>
<line x1="69.6" y1="599.81" x2="72.6" y2="599.81" stroke="#555" stroke-width="0.9"/>
<line x1="330.1" y1="599.81" x2="327.1" y2="599.81" stroke="#555" stroke-width="0.9"/>
<text x="32.03" y="604.51" font-size="14.1" fill="#000">-</text>
<text x="41.58" y="604.51" font-size="14.1" fill="#000">0.03</text>
<line x1="69.6" y1="591.72" x2="71.19999999999999" y2="591.72" stroke="#555" stroke-width="0.9"/>
<line x1="330.1" y1="591.72" x2="328.5" y2="591.72" stroke="#555" stroke-width="0.9"/>
<line x1="69.6" y1="583.62" x2="71.19999999999999" y2="583.62" stroke="#555" stroke-width="0.9"/>
<line x1="330.1" y1="583.62" x2="328.5" y2="583.62" stroke="#555" stroke-width="0.9"/>
<line x1="69.6" y1="575.53" x2="71.19999999999999" y2="575.53" stroke="#555" stroke-width="0.9"/>
<line x1="330.1" y1="575.53" x2="328.5" y2="575.53" stroke="#555" stroke-width="0.9"/>
<line x1="69.6" y1="567.43" x2="71.19999999999999" y2="567.43" stroke="#555" stroke-width="0.9"/>
<line x1="330.1" y1="567.43" x2="328.5" y2="567.43" stroke="#555" stroke-width="0.9"/>
<line x1="69.6" y1="559.34" x2="72.6" y2="559.34" stroke="#555" stroke-width="0.9"/>
<line x1="330.1" y1="559.34" x2="327.1" y2="559.34" stroke="#555" stroke-width="0.9"/>
<text x="32.25" y="564.04" font-size="14.1" fill="#000">-</text>
<text x="41.80" y="564.04" font-size="14.1" fill="#000">0.02</text>
<line x1="69.6" y1="551.25" x2="71.19999999999999" y2="551.25" stroke="#555" stroke-width="0.9"/>
<line x1="330.1" y1="551.25" x2="328.5" y2="551.25" stroke="#555" stroke-width="0.9"/>
<line x1="69.6" y1="543.15" x2="71.19999999999999" y2="543.15" stroke="#555" stroke-width="0.9"/>
<line x1="330.1" y1="543.15" x2="328.5" y2="543.15" stroke="#555" stroke-width="0.9"/>
<line x1="69.6" y1="535.06" x2="71.19999999999999" y2="535.06" stroke="#555" stroke-width="0.9"/>
<line x1="330.1" y1="535.06" x2="328.5" y2="535.06" stroke="#555" stroke-width="0.9"/>
<line x1="69.6" y1="526.96" x2="71.19999999999999" y2="526.96" stroke="#555" stroke-width="0.9"/>
<line x1="330.1" y1="526.96" x2="328.5" y2="526.96" stroke="#555" stroke-width="0.9"/>
<line x1="69.6" y1="518.87" x2="72.6" y2="518.87" stroke="#555" stroke-width="0.9"/>
<line x1="330.1" y1="518.87" x2="327.1" y2="518.87" stroke="#555" stroke-width="0.9"/>
<text x="32.32" y="523.57" font-size="14.1" fill="#000">-</text>
<text x="41.87" y="523.57" font-size="14.1" fill="#000">0.01</text>
<line x1="69.6" y1="510.78" x2="71.19999999999999" y2="510.78" stroke="#555" stroke-width="0.9"/>
<line x1="330.1" y1="510.78" x2="328.5" y2="510.78" stroke="#555" stroke-width="0.9"/>
<line x1="69.6" y1="502.68" x2="71.19999999999999" y2="502.68" stroke="#555" stroke-width="0.9"/>
<line x1="330.1" y1="502.68" x2="328.5" y2="502.68" stroke="#555" stroke-width="0.9"/>
<line x1="69.6" y1="494.59" x2="71.19999999999999" y2="494.59" stroke="#555" stroke-width="0.9"/>
<line x1="330.1" y1="494.59" x2="328.5" y2="494.59" stroke="#555" stroke-width="0.9"/>
<line x1="69.6" y1="486.49" x2="71.19999999999999" y2="486.49" stroke="#555" stroke-width="0.9"/>
<line x1="330.1" y1="486.49" x2="328.5" y2="486.49" stroke="#555" stroke-width="0.9"/>
<line x1="69.6" y1="478.40" x2="72.6" y2="478.40" stroke="#555" stroke-width="0.9"/>
<line x1="330.1" y1="478.40" x2="327.1" y2="478.40" stroke="#555" stroke-width="0.9"/>
<text x="41.56" y="483.10" font-size="14.1" fill="#000">0.00</text>
<line x1="69.6" y1="470.31" x2="71.19999999999999" y2="470.31" stroke="#555" stroke-width="0.9"/>
<line x1="330.1" y1="470.31" x2="328.5" y2="470.31" stroke="#555" stroke-width="0.9"/>
<line x1="69.6" y1="462.21" x2="71.19999999999999" y2="462.21" stroke="#555" stroke-width="0.9"/>
<line x1="330.1" y1="462.21" x2="328.5" y2="462.21" stroke="#555" stroke-width="0.9"/>
<line x1="69.6" y1="454.12" x2="71.19999999999999" y2="454.12" stroke="#555" stroke-width="0.9"/>
<line x1="330.1" y1="454.12" x2="328.5" y2="454.12" stroke="#555" stroke-width="0.9"/>
<line x1="69.6" y1="446.02" x2="71.19999999999999" y2="446.02" stroke="#555" stroke-width="0.9"/>
<line x1="330.1" y1="446.02" x2="328.5" y2="446.02" stroke="#555" stroke-width="0.9"/>
<line x1="69.6" y1="437.93" x2="72.6" y2="437.93" stroke="#555" stroke-width="0.9"/>
<line x1="330.1" y1="437.93" x2="327.1" y2="437.93" stroke="#555" stroke-width="0.9"/>
<text x="41.87" y="442.63" font-size="14.1" fill="#000">0.01</text>
<line x1="69.6" y1="429.84" x2="71.19999999999999" y2="429.84" stroke="#555" stroke-width="0.9"/>
<line x1="330.1" y1="429.84" x2="328.5" y2="429.84" stroke="#555" stroke-width="0.9"/>
<line x1="69.6" y1="421.74" x2="71.19999999999999" y2="421.74" stroke="#555" stroke-width="0.9"/>
<line x1="330.1" y1="421.74" x2="328.5" y2="421.74" stroke="#555" stroke-width="0.9"/>
<line x1="69.6" y1="413.65" x2="71.19999999999999" y2="413.65" stroke="#555" stroke-width="0.9"/>
<line x1="330.1" y1="413.65" x2="328.5" y2="413.65" stroke="#555" stroke-width="0.9"/>
<line x1="69.6" y1="405.55" x2="71.19999999999999" y2="405.55" stroke="#555" stroke-width="0.9"/>
<line x1="330.1" y1="405.55" x2="328.5" y2="405.55" stroke="#555" stroke-width="0.9"/>
<line x1="69.6" y1="397.46" x2="72.6" y2="397.46" stroke="#555" stroke-width="0.9"/>
<line x1="330.1" y1="397.46" x2="327.1" y2="397.46" stroke="#555" stroke-width="0.9"/>
<text x="41.80" y="402.16" font-size="14.1" fill="#000">0.02</text>
<line x1="69.6" y1="389.37" x2="71.19999999999999" y2="389.37" stroke="#555" stroke-width="0.9"/>
<line x1="330.1" y1="389.37" x2="328.5" y2="389.37" stroke="#555" stroke-width="0.9"/>
<line x1="69.6" y1="381.27" x2="71.19999999999999" y2="381.27" stroke="#555" stroke-width="0.9"/>
<line x1="330.1" y1="381.27" x2="328.5" y2="381.27" stroke="#555" stroke-width="0.9"/>
<line x1="69.6" y1="373.18" x2="71.19999999999999" y2="373.18" stroke="#555" stroke-width="0.9"/>
<line x1="330.1" y1="373.18" x2="328.5" y2="373.18" stroke="#555" stroke-width="0.9"/>
<line x1="69.6" y1="365.08" x2="71.19999999999999" y2="365.08" stroke="#555" stroke-width="0.9"/>
<line x1="330.1" y1="365.08" x2="328.5" y2="365.08" stroke="#555" stroke-width="0.9"/>
<line x1="69.6" y1="356.99" x2="72.6" y2="356.99" stroke="#555" stroke-width="0.9"/>
<line x1="330.1" y1="356.99" x2="327.1" y2="356.99" stroke="#555" stroke-width="0.9"/>
<text x="41.58" y="361.69" font-size="14.1" fill="#000">0.03</text>
<line x1="69.6" y1="348.90" x2="71.19999999999999" y2="348.90" stroke="#555" stroke-width="0.9"/>
<line x1="330.1" y1="348.90" x2="328.5" y2="348.90" stroke="#555" stroke-width="0.9"/>
<g transform="translate(19.9,511.4) rotate(-90)"><text x="-0.60" y="0.00" font-size="21" font-style="italic" fill="#000">k</text>
<text x="10.40" y="3.20" font-size="14.5" font-style="italic" fill="#000">y</text>
<text x="17.30" y="0.00" font-size="22" fill="#000">(</text>
<text x="27.40" y="0.00" font-size="21" font-style="italic" fill="#000">Å</text>
<rect x="40.9" y="-12.2" width="9" height="1.0" fill="#111"/>
<text x="51.60" y="-8.30" font-size="12.5" fill="#000">1</text>
<text x="58.60" y="0.00" font-size="22" fill="#000">)</text></g>
<g transform="translate(167.2,654)"><text x="-0.60" y="0.00" font-size="21" font-style="italic" fill="#000">k</text>
<text x="9.60" y="2.70" font-size="14.5" font-style="italic" fill="#000">x</text>
<text x="17.30" y="0.00" font-size="22" fill="#000">(</text>
<text x="27.40" y="0.00" font-size="21" font-style="italic" fill="#000">Å</text>
<rect x="40.9" y="-12.2" width="9" height="1.0" fill="#111"/>
<text x="51.60" y="-8.30" font-size="12.5" fill="#000">1</text>
<text x="58.60" y="0.00" font-size="22" fill="#000">)</text></g>
<text x="364.60" y="325.60" font-size="23.4" fill="#000">(d)</text>
<defs>
<clipPath id="clipD"><rect x="421" y="356.1" width="251.2" height="250.8"/></clipPath>
<linearGradient id="cbD" x1="0" y1="0" x2="0" y2="1">
<stop offset="0" stop-color="#d45a2c"/><stop offset="0.125" stop-color="#e8a060"/><stop offset="0.25" stop-color="#f0d890"/>
<stop offset="0.375" stop-color="#fbf3c8"/><stop offset="0.5" stop-color="#fffff0"/><stop offset="0.625" stop-color="#d8eef8"/>
<stop offset="0.75" stop-color="#90c4e4"/><stop offset="0.875" stop-color="#5888c8"/><stop offset="1" stop-color="#3a50a8"/>
</linearGradient>
</defs>
<g clip-path="url(#clipD)">
<rect x="421" y="356.1" width="251.2" height="250.8" fill="#f4dd92"/>
<ellipse cx="538" cy="452" rx="22" ry="22" fill="#f6e3a6" filter="url(#b8)"/>
<ellipse cx="544" cy="526" rx="14" ry="26" fill="#f7e5aa" filter="url(#b8)"/>
<ellipse cx="580" cy="478" rx="18" ry="18" fill="#f7e6ae" filter="url(#b8)"/>
<ellipse cx="537.2" cy="449.5" rx="10" ry="12.5" fill="#fcf3c8" filter="url(#b3)"/>
<ellipse cx="544.5" cy="528" rx="8" ry="17" fill="#fbeebc" filter="url(#b4)"/>
<ellipse cx="532.5" cy="487.1" rx="11" ry="8.5" fill="#ecb272" filter="url(#b4)"/>
<ellipse cx="553" cy="457" rx="6" ry="12" fill="#e8a666" transform="rotate(38 553 457)" filter="url(#b4)"/>
<ellipse cx="534.5" cy="469.2" rx="11.5" ry="5" fill="#dc7040" transform="rotate(-5 534.5 469.2)" filter="url(#b3)"/>
<ellipse cx="534" cy="469.2" rx="7" ry="3" fill="#d25a2c" transform="rotate(-5 534 469.2)" filter="url(#b2)"/>
<ellipse cx="560.3" cy="508.8" rx="6.5" ry="8.5" fill="#e8a468" transform="rotate(-20 560.3 508.8)" filter="url(#b3)"/>
<ellipse cx="567" cy="489" rx="26" ry="17" fill="#fcf2d0" transform="rotate(35 567 489)" filter="url(#b4)"/>
<ellipse cx="570" cy="492.5" rx="17" ry="12.5" fill="#fffcf0" transform="rotate(28 570 492.5)" filter="url(#b2)"/>
<ellipse cx="570.8" cy="493.2" rx="11" ry="7.8" fill="#a6d0ec" transform="rotate(22 570.8 493.2)" filter="url(#b2)"/>
<ellipse cx="570.8" cy="493.2" rx="6.3" ry="3.9" fill="#2a48a8" transform="rotate(22 570.8 493.2)" filter="url(#b1)"/>
</g>
<polygon points="551,361.5 665.3,423.8 661.4,544 542.7,600.3 428.1,537.8 432.7,417" fill="none" stroke="#444" stroke-width="1" stroke-dasharray="2.2,1.8"/>
<rect x="453.5" y="419.4" width="8.4" height="125.5" fill="url(#cbD)"/>
<text x="466.26" y="425.10" font-size="14.3" fill="#000">0.5</text>
<text x="466.26" y="455.80" font-size="14.3" fill="#000">0</text>
<text x="466.27" y="487.10" font-size="14.3" fill="#000">-</text>
<text x="475.87" y="487.10" font-size="14.3" fill="#000">0.5</text>
<text x="466.27" y="518.20" font-size="14.3" fill="#000">-</text>
<text x="475.16" y="518.20" font-size="14.3" fill="#000">1.0</text>
<text x="466.27" y="549.60" font-size="14.3" fill="#000">-</text>
<text x="475.16" y="549.60" font-size="14.3" fill="#000">1.5</text>
<rect x="415.6" y="350.5" width="261.70" height="261.20" fill="none" stroke="#555" stroke-width="1.1"/>
<line x1="420.34" y1="611.7" x2="420.34" y2="610.1" stroke="#555" stroke-width="0.9"/>
<line x1="420.34" y1="350.5" x2="420.34" y2="352.1" stroke="#555" stroke-width="0.9"/>
<line x1="429.38" y1="611.7" x2="429.38" y2="610.1" stroke="#555" stroke-width="0.9"/>
<line x1="429.38" y1="350.5" x2="429.38" y2="352.1" stroke="#555" stroke-width="0.9"/>
<line x1="438.42" y1="611.7" x2="438.42" y2="610.1" stroke="#555" stroke-width="0.9"/>
<line x1="438.42" y1="350.5" x2="438.42" y2="352.1" stroke="#555" stroke-width="0.9"/>
<line x1="447.46" y1="611.7" x2="447.46" y2="610.1" stroke="#555" stroke-width="0.9"/>
<line x1="447.46" y1="350.5" x2="447.46" y2="352.1" stroke="#555" stroke-width="0.9"/>
<line x1="456.50" y1="611.7" x2="456.50" y2="608.7" stroke="#555" stroke-width="0.9"/>
<line x1="456.50" y1="350.5" x2="456.50" y2="353.5" stroke="#555" stroke-width="0.9"/>
<text x="439.42" y="628.90" font-size="14.2" fill="#000">-</text>
<text x="448.99" y="628.90" font-size="14.2" fill="#000">0.02</text>
<line x1="465.54" y1="611.7" x2="465.54" y2="610.1" stroke="#555" stroke-width="0.9"/>
<line x1="465.54" y1="350.5" x2="465.54" y2="352.1" stroke="#555" stroke-width="0.9"/>
<line x1="474.58" y1="611.7" x2="474.58" y2="610.1" stroke="#555" stroke-width="0.9"/>
<line x1="474.58" y1="350.5" x2="474.58" y2="352.1" stroke="#555" stroke-width="0.9"/>
<line x1="483.62" y1="611.7" x2="483.62" y2="610.1" stroke="#555" stroke-width="0.9"/>
<line x1="483.62" y1="350.5" x2="483.62" y2="352.1" stroke="#555" stroke-width="0.9"/>
<line x1="492.66" y1="611.7" x2="492.66" y2="610.1" stroke="#555" stroke-width="0.9"/>
<line x1="492.66" y1="350.5" x2="492.66" y2="352.1" stroke="#555" stroke-width="0.9"/>
<line x1="501.70" y1="611.7" x2="501.70" y2="608.7" stroke="#555" stroke-width="0.9"/>
<line x1="501.70" y1="350.5" x2="501.70" y2="353.5" stroke="#555" stroke-width="0.9"/>
<text x="484.65" y="628.90" font-size="14.2" fill="#000">-</text>
<text x="494.23" y="628.90" font-size="14.2" fill="#000">0.01</text>
<line x1="510.74" y1="611.7" x2="510.74" y2="610.1" stroke="#555" stroke-width="0.9"/>
<line x1="510.74" y1="350.5" x2="510.74" y2="352.1" stroke="#555" stroke-width="0.9"/>
<line x1="519.78" y1="611.7" x2="519.78" y2="610.1" stroke="#555" stroke-width="0.9"/>
<line x1="519.78" y1="350.5" x2="519.78" y2="352.1" stroke="#555" stroke-width="0.9"/>
<line x1="528.82" y1="611.7" x2="528.82" y2="610.1" stroke="#555" stroke-width="0.9"/>
<line x1="528.82" y1="350.5" x2="528.82" y2="352.1" stroke="#555" stroke-width="0.9"/>
<line x1="537.86" y1="611.7" x2="537.86" y2="610.1" stroke="#555" stroke-width="0.9"/>
<line x1="537.86" y1="350.5" x2="537.86" y2="352.1" stroke="#555" stroke-width="0.9"/>
<line x1="546.90" y1="611.7" x2="546.90" y2="608.7" stroke="#555" stroke-width="0.9"/>
<line x1="546.90" y1="350.5" x2="546.90" y2="353.5" stroke="#555" stroke-width="0.9"/>
<text x="534.47" y="628.90" font-size="14.2" fill="#000">0.00</text>
<line x1="555.94" y1="611.7" x2="555.94" y2="610.1" stroke="#555" stroke-width="0.9"/>
<line x1="555.94" y1="350.5" x2="555.94" y2="352.1" stroke="#555" stroke-width="0.9"/>
<line x1="564.98" y1="611.7" x2="564.98" y2="610.1" stroke="#555" stroke-width="0.9"/>
<line x1="564.98" y1="350.5" x2="564.98" y2="352.1" stroke="#555" stroke-width="0.9"/>
<line x1="574.02" y1="611.7" x2="574.02" y2="610.1" stroke="#555" stroke-width="0.9"/>
<line x1="574.02" y1="350.5" x2="574.02" y2="352.1" stroke="#555" stroke-width="0.9"/>
<line x1="583.06" y1="611.7" x2="583.06" y2="610.1" stroke="#555" stroke-width="0.9"/>
<line x1="583.06" y1="350.5" x2="583.06" y2="352.1" stroke="#555" stroke-width="0.9"/>
<line x1="592.10" y1="611.7" x2="592.10" y2="608.7" stroke="#555" stroke-width="0.9"/>
<line x1="592.10" y1="350.5" x2="592.10" y2="353.5" stroke="#555" stroke-width="0.9"/>
<text x="579.83" y="628.90" font-size="14.2" fill="#000">0.01</text>
<line x1="601.14" y1="611.7" x2="601.14" y2="610.1" stroke="#555" stroke-width="0.9"/>
<line x1="601.14" y1="350.5" x2="601.14" y2="352.1" stroke="#555" stroke-width="0.9"/>
<line x1="610.18" y1="611.7" x2="610.18" y2="610.1" stroke="#555" stroke-width="0.9"/>
<line x1="610.18" y1="350.5" x2="610.18" y2="352.1" stroke="#555" stroke-width="0.9"/>
<line x1="619.22" y1="611.7" x2="619.22" y2="610.1" stroke="#555" stroke-width="0.9"/>
<line x1="619.22" y1="350.5" x2="619.22" y2="352.1" stroke="#555" stroke-width="0.9"/>
<line x1="628.26" y1="611.7" x2="628.26" y2="610.1" stroke="#555" stroke-width="0.9"/>
<line x1="628.26" y1="350.5" x2="628.26" y2="352.1" stroke="#555" stroke-width="0.9"/>
<line x1="637.30" y1="611.7" x2="637.30" y2="608.7" stroke="#555" stroke-width="0.9"/>
<line x1="637.30" y1="350.5" x2="637.30" y2="353.5" stroke="#555" stroke-width="0.9"/>
<text x="625.00" y="628.90" font-size="14.2" fill="#000">0.02</text>
<line x1="646.34" y1="611.7" x2="646.34" y2="610.1" stroke="#555" stroke-width="0.9"/>
<line x1="646.34" y1="350.5" x2="646.34" y2="352.1" stroke="#555" stroke-width="0.9"/>
<line x1="655.38" y1="611.7" x2="655.38" y2="610.1" stroke="#555" stroke-width="0.9"/>
<line x1="655.38" y1="350.5" x2="655.38" y2="352.1" stroke="#555" stroke-width="0.9"/>
<line x1="664.42" y1="611.7" x2="664.42" y2="610.1" stroke="#555" stroke-width="0.9"/>
<line x1="664.42" y1="350.5" x2="664.42" y2="352.1" stroke="#555" stroke-width="0.9"/>
<line x1="673.46" y1="611.7" x2="673.46" y2="610.1" stroke="#555" stroke-width="0.9"/>
<line x1="673.46" y1="350.5" x2="673.46" y2="352.1" stroke="#555" stroke-width="0.9"/>
<line x1="415.6" y1="609.90" x2="417.20000000000005" y2="609.90" stroke="#555" stroke-width="0.9"/>
<line x1="677.3" y1="609.90" x2="675.6999999999999" y2="609.90" stroke="#555" stroke-width="0.9"/>
<line x1="415.6" y1="601.85" x2="418.6" y2="601.85" stroke="#555" stroke-width="0.9"/>
<line x1="677.3" y1="601.85" x2="674.3" y2="601.85" stroke="#555" stroke-width="0.9"/>
<text x="379.13" y="606.55" font-size="14.2" fill="#000">-</text>
<text x="388.70" y="606.55" font-size="14.2" fill="#000">0.03</text>
<line x1="415.6" y1="593.80" x2="417.20000000000005" y2="593.80" stroke="#555" stroke-width="0.9"/>
<line x1="677.3" y1="593.80" x2="675.6999999999999" y2="593.80" stroke="#555" stroke-width="0.9"/>
<line x1="415.6" y1="585.75" x2="417.20000000000005" y2="585.75" stroke="#555" stroke-width="0.9"/>
<line x1="677.3" y1="585.75" x2="675.6999999999999" y2="585.75" stroke="#555" stroke-width="0.9"/>
<line x1="415.6" y1="577.70" x2="417.20000000000005" y2="577.70" stroke="#555" stroke-width="0.9"/>
<line x1="677.3" y1="577.70" x2="675.6999999999999" y2="577.70" stroke="#555" stroke-width="0.9"/>
<line x1="415.6" y1="569.65" x2="417.20000000000005" y2="569.65" stroke="#555" stroke-width="0.9"/>
<line x1="677.3" y1="569.65" x2="675.6999999999999" y2="569.65" stroke="#555" stroke-width="0.9"/>
<line x1="415.6" y1="561.60" x2="418.6" y2="561.60" stroke="#555" stroke-width="0.9"/>
<line x1="677.3" y1="561.60" x2="674.3" y2="561.60" stroke="#555" stroke-width="0.9"/>
<text x="379.36" y="566.30" font-size="14.2" fill="#000">-</text>
<text x="388.93" y="566.30" font-size="14.2" fill="#000">0.02</text>
<line x1="415.6" y1="553.55" x2="417.20000000000005" y2="553.55" stroke="#555" stroke-width="0.9"/>
<line x1="677.3" y1="553.55" x2="675.6999999999999" y2="553.55" stroke="#555" stroke-width="0.9"/>
<line x1="415.6" y1="545.50" x2="417.20000000000005" y2="545.50" stroke="#555" stroke-width="0.9"/>
<line x1="677.3" y1="545.50" x2="675.6999999999999" y2="545.50" stroke="#555" stroke-width="0.9"/>
<line x1="415.6" y1="537.45" x2="417.20000000000005" y2="537.45" stroke="#555" stroke-width="0.9"/>
<line x1="677.3" y1="537.45" x2="675.6999999999999" y2="537.45" stroke="#555" stroke-width="0.9"/>
<line x1="415.6" y1="529.40" x2="417.20000000000005" y2="529.40" stroke="#555" stroke-width="0.9"/>
<line x1="677.3" y1="529.40" x2="675.6999999999999" y2="529.40" stroke="#555" stroke-width="0.9"/>
<line x1="415.6" y1="521.35" x2="418.6" y2="521.35" stroke="#555" stroke-width="0.9"/>
<line x1="677.3" y1="521.35" x2="674.3" y2="521.35" stroke="#555" stroke-width="0.9"/>
<text x="379.43" y="526.05" font-size="14.2" fill="#000">-</text>
<text x="389.00" y="526.05" font-size="14.2" fill="#000">0.01</text>
<line x1="415.6" y1="513.30" x2="417.20000000000005" y2="513.30" stroke="#555" stroke-width="0.9"/>
<line x1="677.3" y1="513.30" x2="675.6999999999999" y2="513.30" stroke="#555" stroke-width="0.9"/>
<line x1="415.6" y1="505.25" x2="417.20000000000005" y2="505.25" stroke="#555" stroke-width="0.9"/>
<line x1="677.3" y1="505.25" x2="675.6999999999999" y2="505.25" stroke="#555" stroke-width="0.9"/>
<line x1="415.6" y1="497.20" x2="417.20000000000005" y2="497.20" stroke="#555" stroke-width="0.9"/>
<line x1="677.3" y1="497.20" x2="675.6999999999999" y2="497.20" stroke="#555" stroke-width="0.9"/>
<line x1="415.6" y1="489.15" x2="417.20000000000005" y2="489.15" stroke="#555" stroke-width="0.9"/>
<line x1="677.3" y1="489.15" x2="675.6999999999999" y2="489.15" stroke="#555" stroke-width="0.9"/>
<line x1="415.6" y1="481.10" x2="418.6" y2="481.10" stroke="#555" stroke-width="0.9"/>
<line x1="677.3" y1="481.10" x2="674.3" y2="481.10" stroke="#555" stroke-width="0.9"/>
<text x="388.69" y="485.80" font-size="14.2" fill="#000">0.00</text>
<line x1="415.6" y1="473.05" x2="417.20000000000005" y2="473.05" stroke="#555" stroke-width="0.9"/>
<line x1="677.3" y1="473.05" x2="675.6999999999999" y2="473.05" stroke="#555" stroke-width="0.9"/>
<line x1="415.6" y1="465.00" x2="417.20000000000005" y2="465.00" stroke="#555" stroke-width="0.9"/>
<line x1="677.3" y1="465.00" x2="675.6999999999999" y2="465.00" stroke="#555" stroke-width="0.9"/>
<line x1="415.6" y1="456.95" x2="417.20000000000005" y2="456.95" stroke="#555" stroke-width="0.9"/>
<line x1="677.3" y1="456.95" x2="675.6999999999999" y2="456.95" stroke="#555" stroke-width="0.9"/>
<line x1="415.6" y1="448.90" x2="417.20000000000005" y2="448.90" stroke="#555" stroke-width="0.9"/>
<line x1="677.3" y1="448.90" x2="675.6999999999999" y2="448.90" stroke="#555" stroke-width="0.9"/>
<line x1="415.6" y1="440.85" x2="418.6" y2="440.85" stroke="#555" stroke-width="0.9"/>
<line x1="677.3" y1="440.85" x2="674.3" y2="440.85" stroke="#555" stroke-width="0.9"/>
<text x="389.00" y="445.55" font-size="14.2" fill="#000">0.01</text>
<line x1="415.6" y1="432.80" x2="417.20000000000005" y2="432.80" stroke="#555" stroke-width="0.9"/>
<line x1="677.3" y1="432.80" x2="675.6999999999999" y2="432.80" stroke="#555" stroke-width="0.9"/>
<line x1="415.6" y1="424.75" x2="417.20000000000005" y2="424.75" stroke="#555" stroke-width="0.9"/>
<line x1="677.3" y1="424.75" x2="675.6999999999999" y2="424.75" stroke="#555" stroke-width="0.9"/>
<line x1="415.6" y1="416.70" x2="417.20000000000005" y2="416.70" stroke="#555" stroke-width="0.9"/>
<line x1="677.3" y1="416.70" x2="675.6999999999999" y2="416.70" stroke="#555" stroke-width="0.9"/>
<line x1="415.6" y1="408.65" x2="417.20000000000005" y2="408.65" stroke="#555" stroke-width="0.9"/>
<line x1="677.3" y1="408.65" x2="675.6999999999999" y2="408.65" stroke="#555" stroke-width="0.9"/>
<line x1="415.6" y1="400.60" x2="418.6" y2="400.60" stroke="#555" stroke-width="0.9"/>
<line x1="677.3" y1="400.60" x2="674.3" y2="400.60" stroke="#555" stroke-width="0.9"/>
<text x="388.93" y="405.30" font-size="14.2" fill="#000">0.02</text>
<line x1="415.6" y1="392.55" x2="417.20000000000005" y2="392.55" stroke="#555" stroke-width="0.9"/>
<line x1="677.3" y1="392.55" x2="675.6999999999999" y2="392.55" stroke="#555" stroke-width="0.9"/>
<line x1="415.6" y1="384.50" x2="417.20000000000005" y2="384.50" stroke="#555" stroke-width="0.9"/>
<line x1="677.3" y1="384.50" x2="675.6999999999999" y2="384.50" stroke="#555" stroke-width="0.9"/>
<line x1="415.6" y1="376.45" x2="417.20000000000005" y2="376.45" stroke="#555" stroke-width="0.9"/>
<line x1="677.3" y1="376.45" x2="675.6999999999999" y2="376.45" stroke="#555" stroke-width="0.9"/>
<line x1="415.6" y1="368.40" x2="417.20000000000005" y2="368.40" stroke="#555" stroke-width="0.9"/>
<line x1="677.3" y1="368.40" x2="675.6999999999999" y2="368.40" stroke="#555" stroke-width="0.9"/>
<line x1="415.6" y1="360.35" x2="418.6" y2="360.35" stroke="#555" stroke-width="0.9"/>
<line x1="677.3" y1="360.35" x2="674.3" y2="360.35" stroke="#555" stroke-width="0.9"/>
<text x="388.70" y="365.05" font-size="14.2" fill="#000">0.03</text>
<line x1="415.6" y1="352.30" x2="417.20000000000005" y2="352.30" stroke="#555" stroke-width="0.9"/>
<line x1="677.3" y1="352.30" x2="675.6999999999999" y2="352.30" stroke="#555" stroke-width="0.9"/>
<g transform="translate(366.8,514.2) rotate(-90)"><text x="-0.60" y="0.00" font-size="21" font-style="italic" fill="#000">k</text>
<text x="10.40" y="3.20" font-size="14.5" font-style="italic" fill="#000">y</text>
<text x="17.30" y="0.00" font-size="22" fill="#000">(</text>
<text x="27.40" y="0.00" font-size="21" font-style="italic" fill="#000">Å</text>
<rect x="40.9" y="-12.2" width="9" height="1.0" fill="#111"/>
<text x="51.60" y="-8.30" font-size="12.5" fill="#000">1</text>
<text x="58.60" y="0.00" font-size="22" fill="#000">)</text></g>
<g transform="translate(513.9,656.8)"><text x="-0.60" y="0.00" font-size="21" font-style="italic" fill="#000">k</text>
<text x="9.60" y="2.70" font-size="14.5" font-style="italic" fill="#000">x</text>
<text x="17.30" y="0.00" font-size="22" fill="#000">(</text>
<text x="27.40" y="0.00" font-size="21" font-style="italic" fill="#000">Å</text>
<rect x="40.9" y="-12.2" width="9" height="1.0" fill="#111"/>
<text x="51.60" y="-8.30" font-size="12.5" fill="#000">1</text>
<text x="58.60" y="0.00" font-size="22" fill="#000">)</text></g>
</svg>
</body></html>
